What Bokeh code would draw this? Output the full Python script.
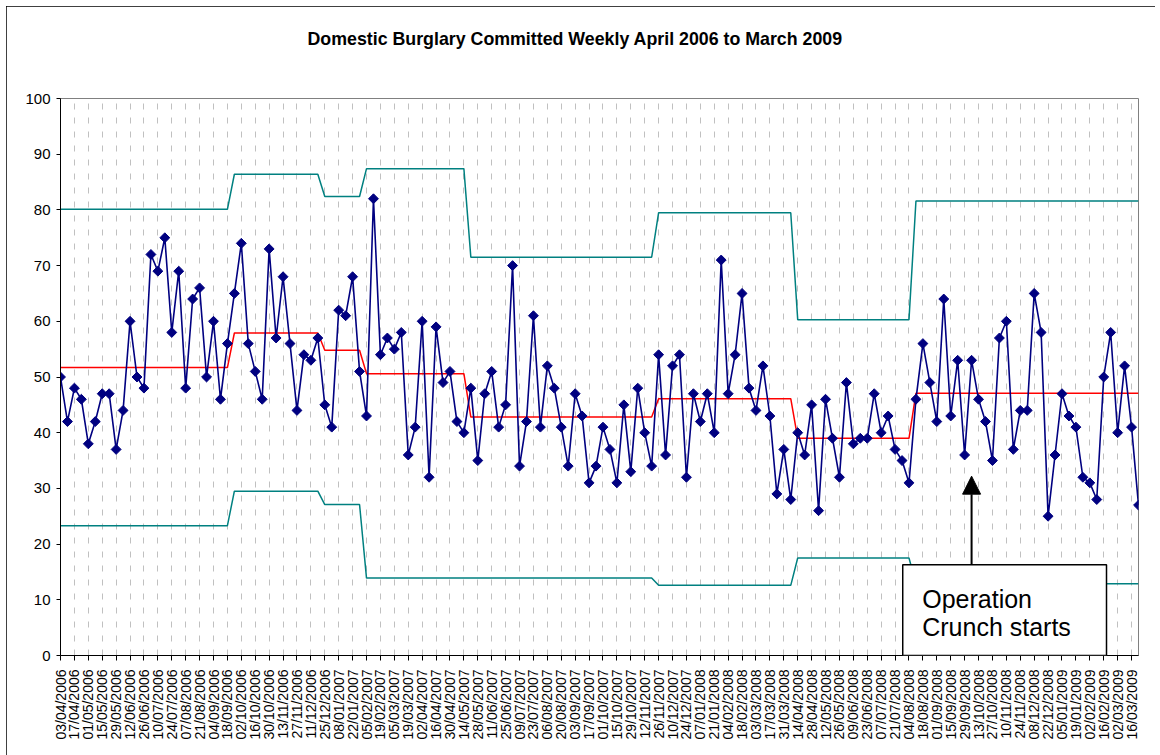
import math
from bokeh.plotting import figure
from bokeh.models import Range1d, FixedTicker, Label, BoxAnnotation, Arrow, NormalHead, Title
from bokeh.embed import file_html
from bokeh.resources import INLINE

title_text = "Domestic Burglary Committed Weekly April 2006 to March 2009"

# tick labels (every second week, starting at the first week)
tick_dates = [
    "03/04/2006", "17/04/2006", "01/05/2006", "15/05/2006", "29/05/2006", "12/06/2006",
    "26/06/2006", "10/07/2006", "24/07/2006", "07/08/2006", "21/08/2006", "04/09/2006",
    "18/09/2006", "02/10/2006", "16/10/2006", "30/10/2006", "13/11/2006", "27/11/2006",
    "11/12/2006", "25/12/2006",
    "08/01/2007", "22/01/2007", "05/02/2007", "19/02/2007", "05/03/2007", "19/03/2007",
    "02/04/2007", "16/04/2007", "30/04/2007", "14/05/2007", "28/05/2007", "11/06/2007",
    "25/06/2007", "09/07/2007", "23/07/2007", "06/08/2007", "20/08/2007", "03/09/2007",
    "17/09/2007", "01/10/2007", "15/10/2007", "29/10/2007", "12/11/2007", "26/11/2007",
    "10/12/2007", "24/12/2007",
    "07/01/2008", "21/01/2008", "04/02/2008", "18/02/2008", "03/03/2008", "17/03/2008",
    "31/03/2008", "14/04/2008", "28/04/2008", "12/05/2008", "26/05/2008", "09/06/2008",
    "23/06/2008", "07/07/2008", "21/07/2008", "04/08/2008", "18/08/2008", "01/09/2008",
    "15/09/2008", "29/09/2008", "13/10/2008", "27/10/2008", "10/11/2008", "24/11/2008",
    "08/12/2008", "22/12/2008",
    "05/01/2009", "19/01/2009", "02/02/2009", "16/02/2009", "02/03/2009", "16/03/2009",
]

# weekly domestic burglaries (156 weeks)
burglaries = [
    50, 42, 48, 46, 38, 42, 47, 47, 37, 44, 60, 50, 48, 72, 69, 75, 58, 69, 48, 64, 66, 50, 60, 46, 56, 65, 74,
    56, 51, 46, 73, 57, 68, 56, 44, 54, 53, 57, 45, 41, 62, 61, 68, 51, 43, 82, 54, 57, 55, 58, 36, 41, 60,
    32, 59, 49, 51, 42, 40, 48, 35, 47, 51, 41, 45, 70, 34, 42, 61, 41, 52, 48, 41, 34, 47, 43, 31, 34, 41,
    37, 31, 45, 33, 48, 40, 34, 54, 36, 52, 54, 32, 47, 42, 47, 40, 71, 47, 54, 65, 48, 44, 52, 43, 29,
    37, 28, 40, 36, 45, 26, 46, 39, 32, 49, 38, 39, 39, 47, 40, 43, 37, 35, 31, 46, 56, 49, 42, 64, 43, 53,
    36, 53, 46, 42, 35, 57, 60, 37, 44, 44, 65, 58, 25, 36, 47, 43, 41, 32, 31, 28, 50, 58, 40, 52, 41, 27,
]

# control-chart segments: first week index of each segment and its levels
seg_starts = [0, 25, 38, 44, 59, 86, 106, 123]
mean_levels = [51.7, 57.9, 54.8, 50.6, 42.8, 46.1, 39.0, 47.1]
ucl_levels = [80.1, 86.4, 82.4, 87.4, 71.5, 79.5, 60.3, 81.6]
lcl_levels = [23.3, 29.5, 27.1, 13.9, 13.9, 12.6, 17.5, 12.9]

y_ticks = [0, 10, 20, 30, 40, 50, 60, 70, 80, 90, 100]
note_lines = ["Operation", "Crunch starts"]
operation_week = 131

n = len(burglaries)
weeks = list(range(n))
bounds = seg_starts + [n]


def expand(levels):
    out = []
    for k, lev in enumerate(levels):
        out += [lev] * (bounds[k + 1] - bounds[k])
    return out


mean_line = expand(mean_levels)
ucl_line = expand(ucl_levels)
lcl_line = expand(lcl_levels)

FONT = "Liberation Sans"

p = figure(width=1149, height=749, output_backend="svg", toolbar_location=None,
           x_range=Range1d(0, n - 1), y_range=Range1d(0, 100),
           min_border_left=54, min_border_right=17, min_border_top=92, min_border_bottom=100)
p.title = None
p.background_fill_color = "white"
p.border_fill_color = "white"
p.outline_line_color = "#808080"
p.outline_line_width = 1
p.styles = {"margin": "6px 0px 0px 6px", "outline": "1px solid black", "outline-offset": "-1px"}

# title: a blank spacer next to the frame, then the real title above it
p.add_layout(Title(text=" ", text_font_size="10px", standoff=37), "above")
p.add_layout(Title(text=title_text, align="left", offset=247, standoff=0,
                   text_font=FONT, text_font_size="17.8px", text_font_style="bold",
                   text_color="black"), "above")

# x axis
p.xaxis.ticker = FixedTicker(ticks=list(range(0, n, 2)))
p.xaxis.major_label_overrides = {2 * i: d for i, d in enumerate(tick_dates)}
p.xaxis.major_label_orientation = math.pi / 2
p.xaxis.major_tick_out = 5
p.xaxis.major_tick_in = 0
p.xaxis.minor_tick_line_color = None
p.xaxis.axis_line_color = "black"
p.xaxis.major_tick_line_color = "black"
p.xaxis.major_label_text_font = FONT
p.xaxis.major_label_text_font_size = "14px"
p.xaxis.major_label_text_color = "black"
p.xaxis.major_label_standoff = 9

# y axis
p.yaxis.ticker = FixedTicker(ticks=y_ticks)
p.yaxis.major_tick_out = 4
p.yaxis.major_tick_in = 0
p.yaxis.minor_tick_line_color = None
p.yaxis.axis_line_color = "black"
p.yaxis.major_tick_line_color = "black"
p.yaxis.major_label_text_font = FONT
p.yaxis.major_label_text_font_size = "15px"
p.yaxis.major_label_text_color = "black"
p.yaxis.major_label_standoff = 6

# grid
p.xgrid.ticker = FixedTicker(ticks=list(range(2, n, 2)))
p.xgrid.grid_line_color = "#c0c0c0"
p.xgrid.grid_line_dash = "6 8"
p.xgrid.grid_line_width = 1
p.ygrid.grid_line_color = None

# control limits and mean
p.line(weeks, ucl_line, line_color="#008080", line_width=1.5)
p.line(weeks, lcl_line, line_color="#008080", line_width=1.5)
p.line(weeks, mean_line, line_color="#ff0000", line_width=1.5)

# data
p.line(weeks, burglaries, line_color="#000080", line_width=1.6)
p.scatter(weeks, burglaries, marker="square", size=7, angle=math.pi / 4,
          fill_color="#000080", line_color="#000080", line_width=1)

# annotation
p.add_layout(BoxAnnotation(left=121.1, right=150.4, bottom=0, top=16.3,
                           fill_color="white", fill_alpha=1.0,
                           line_color="black", line_width=1.5, line_alpha=1.0))
p.add_layout(Arrow(x_start=operation_week, y_start=16.3, x_end=operation_week, y_end=32.2,
                   line_color="black", line_width=2,
                   end=NormalHead(size=18, fill_color="black", line_color="black")))
p.add_layout(Label(x=123.9, y=10.1, text=note_lines[0], text_font=FONT, text_font_size="25px",
                   text_align="left", text_baseline="alphabetic", text_color="black"))
p.add_layout(Label(x=123.9, y=5.1, text=note_lines[1], text_font=FONT, text_font_size="25px",
                   text_align="left", text_baseline="alphabetic", text_color="black"))

open("out.html", "w").write(file_html(p, INLINE))
